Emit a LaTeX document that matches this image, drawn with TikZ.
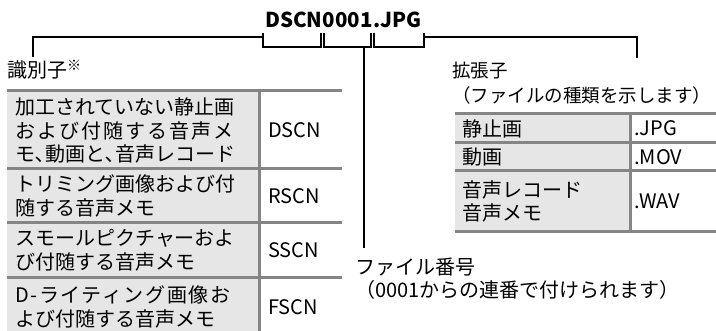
\documentclass[tikz,border=0pt]{standalone}
\usepackage{fontspec}
\setmainfont{Noto Sans CJK JP}
\usetikzlibrary{positioning}
\definecolor{cellgray}{HTML}{E6E6E6}
\definecolor{rulegray}{HTML}{858585}

\begin{document}
\begin{tikzpicture}[x=1pt, y=-1pt, font=\fontsize{20}{23.5}\selectfont]
\tikzset{
  cell/.style={inner sep=0pt, anchor=west, align=left},
  lbl/.style={inner sep=0pt, anchor=north west, align=left},
  part/.style={inner sep=0pt, anchor=base west, font=\fontsize{20.5}{20.5}\selectfont\bfseries},
  rule/.style={draw=rulegray, line width=3pt},
  conn/.style={draw=black, line width=2pt}
}
\useasboundingbox (0,0) rectangle (716,331);

% table backgrounds
\fill[cellgray] (7,91) rectangle (259,331);
\fill[cellgray] (455,114) rectangle (630,232);

% file name
\node (fdscn) [part] at (265,28) {DSCN};
\node (fnum) [part] at (fdscn.base east) {0001};
\node (fext) [part] at (fnum.base east) {.JPG};

% labels
\node (idlbl) [lbl] at (7,60) {識別子\raisebox{7pt}{\fontsize{14}{14}\selectfont ※}};
\node (extlbl) [lbl, font=\fontsize{18.5}{25}\selectfont] at (452,62) {拡張子\\（ファイルの種類を示します）};
\node (numlbl) [lbl, font=\fontsize{20}{23}\selectfont] at (355,258) {ファイル番号\\（0001からの連番で付けられます）};

% identifier table
\node (idrow1) [cell] at (15,130.5) {加工されていない静止画\\{\addfontfeature{LetterSpace=10}および付随する音声メ}\\モ､動画と､音声レコード};
\node (idcode1) [cell] at (268,130.5) {DSCN};
\node (idrow2) [cell] at (15,196) {トリミング画像および付\\随する音声メモ};
\node (idcode2) [cell] at (268,196) {RSCN};
\node (idrow3) [cell] at (15,250.5) {スモールピクチャーおよ\\び付随する音声メモ};
\node (idcode3) [cell] at (268,250.5) {SSCN};
\node (idrow4) [cell] at (15,307) {{\addfontfeature{LetterSpace=8}D-ライティング画像お}\\よび付随する音声メモ};
\node (idcode4) [cell] at (268,307) {FSCN};

% extension table
\node (extrow1) [cell] at (462,128.5) {静止画};
\node (extcode1) [cell] at (634,128.5) {.JPG};
\node (extrow2) [cell] at (462,157) {動画};
\node (extcode2) [cell] at (634,157) {.MOV};
\node (extrow3) [cell] at (462,201.5) {音声レコード\\音声メモ};
\node (extcode3) [cell] at (634,201.5) {.WAV};

\draw[rule] (7,91) -- (342,91) (7,169) -- (342,169) (7,223) -- (342,223) (7,278) -- (342,278);
\draw[rule] (259,91) -- (259,331);
\draw[rule] (455,114) -- (716,114) (455,143) -- (716,143) (455,171) -- (716,171) (455,232) -- (716,232);
\draw[rule] (630,114) -- (630,232);

% brackets under the file name
\draw[conn] ([xshift=-2pt,yshift=-5pt]fdscn.base west) -- ++(0,14) -| ([xshift=-2pt,yshift=-5pt]fdscn.base east);
\draw[conn] ([xshift=1pt,yshift=-5pt]fnum.base west) -- ++(0,14) -| ([xshift=-2pt,yshift=-5pt]fnum.base east);
\draw[conn] ([xshift=1pt,yshift=-5pt]fext.base west) -- ++(0,14) -| ([xshift=2pt,yshift=-5pt]fext.base east);
\coordinate (numtop) at ([xshift=-9pt,yshift=-19pt]fnum.base east);

% connectors
\draw[conn] ([xshift=-2pt,yshift=-9pt]fdscn.base west) -| ([xshift=26pt,yshift=3pt]idlbl.north west);
\draw[conn] ([xshift=2pt,yshift=-9pt]fext.base east) -| ([xshift=185pt,yshift=4pt]extlbl.north west);
\draw[conn, shorten >=10pt] (numtop) -- (numtop |- numlbl.north);
\end{tikzpicture}
\end{document}
